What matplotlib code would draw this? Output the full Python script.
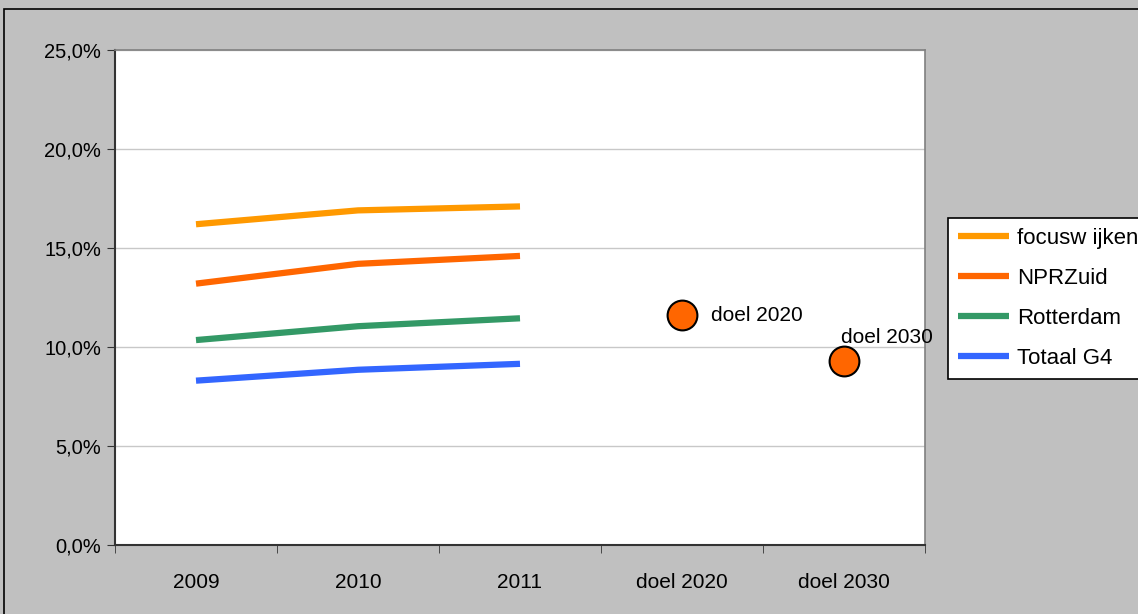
import matplotlib.pyplot as plt
from matplotlib.patches import Rectangle
from matplotlib.ticker import FuncFormatter, MultipleLocator

plt.rcParams['font.family'] = ['Liberation Sans', 'DejaVu Sans']

categories = ['2009', '2010', '2011', 'doel 2020', 'doel 2030']
years = ['2009', '2010', '2011']
focuswijken = [16.2, 16.9, 17.1]
nprzuid = [13.2, 14.2, 14.6]
rotterdam = [10.35, 11.05, 11.45]
totaal_g4 = [8.3, 8.85, 9.15]
doel_labels = ['doel 2020', 'doel 2030']
doel_values = [11.6, 9.3]

series = [
    ('focusw ijken', focuswijken, '#FF9900'),
    ('NPRZuid', nprzuid, '#FF6600'),
    ('Rotterdam', rotterdam, '#339966'),
    ('Totaal G4', totaal_g4, '#3366FF'),
]

fig = plt.figure(figsize=(11.38, 6.14), dpi=100, facecolor='#C0C0C0')
# outer chart border
fig.patches.append(Rectangle((4 / 1138, -0.01), 1.0, (614 - 9) / 614 + 0.01,
                             transform=fig.transFigure, fill=False,
                             edgecolor='black', linewidth=1.2))

ax = fig.add_axes([115 / 1138, 69 / 614, 810 / 1138, 495 / 614])
ax.set_facecolor('white')

xpos = {c: i for i, c in enumerate(categories)}

for name, vals, col in series:
    ax.plot([xpos[y] for y in years], vals, color=col, linewidth=4.5,
            solid_capstyle='butt', label=name)

ax.scatter([xpos[d] for d in doel_labels], doel_values, s=460, color='#FF6600',
           edgecolor='black', linewidth=1.5, zorder=5)
ax.annotate(doel_labels[0], (xpos[doel_labels[0]], doel_values[0]),
            xytext=(21, 0), textcoords='offset points', va='center', ha='left',
            fontsize=15)
ax.annotate(doel_labels[1], (xpos[doel_labels[1]], doel_values[1]),
            xytext=(-2, 10), textcoords='offset points', va='bottom', ha='left',
            fontsize=15, annotation_clip=False)

ax.set_xlim(-0.5, 4.5)
ax.set_ylim(0, 25)
ax.yaxis.set_major_locator(MultipleLocator(5))
ax.yaxis.set_major_formatter(FuncFormatter(lambda v, p: f'{v:.1f}%'.replace('.', ',')))
ax.grid(axis='y', color='#C8C8C8', linewidth=1)
ax.set_axisbelow(True)

ax.set_xticks(range(len(categories)))
ax.set_xticklabels(categories)
ax.set_xticks([i - 0.5 for i in range(len(categories) + 1)], minor=True)
ax.tick_params(axis='x', which='major', length=0, pad=20, labelsize=15)
ax.tick_params(axis='x', which='minor', length=6, direction='out', color='#333333')
ax.tick_params(axis='y', length=6, direction='out', labelsize=14.5, pad=4, color='#333333')

for s in ['left', 'bottom']:
    ax.spines[s].set_color('#333333')
    ax.spines[s].set_linewidth(1.5)
for s in ['top', 'right']:
    ax.spines[s].set_color('#808080')
    ax.spines[s].set_linewidth(1.2)

leg = fig.legend(loc='upper left', bbox_to_anchor=(948 / 1138, 1 - 218 / 614),
                 frameon=True, fancybox=False, edgecolor='black', fontsize=16,
                 handlelength=2.3, handletextpad=0.35, labelspacing=0.85,
                 borderpad=0.45, borderaxespad=0, framealpha=1)
leg.get_frame().set_facecolor('white')
leg.get_frame().set_linewidth(1.2)
for line in leg.get_lines():
    line.set_linewidth(4.5)

fig.savefig('out.png', dpi=100, facecolor=fig.get_facecolor())
